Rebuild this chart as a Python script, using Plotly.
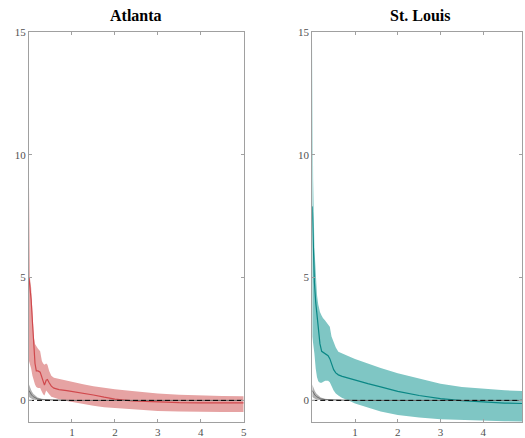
import plotly.graph_objects as go

# Horizon (years) and response estimates with confidence bands
atl_x = [0, 0.02, 0.05, 0.08, 0.11, 0.14, 0.17, 0.21, 0.26, 0.30, 0.33, 0.36, 0.40, 0.43,
         0.47, 0.52, 0.58, 0.70, 0.88, 1.0, 1.26, 1.5, 1.75, 2.0, 2.4, 3.0, 3.5, 4.0, 4.5, 5.0]
atl_mid = [5.0, 4.7, 4.1, 3.2, 2.3, 1.5, 1.2, 1.2, 1.15, 0.9, 0.75, 0.62, 0.82, 0.85,
           0.72, 0.58, 0.5, 0.44, 0.4, 0.37, 0.31, 0.22, 0.13, 0.05, -0.02, -0.07, -0.09, -0.1, -0.1, -0.1]
atl_hi = [8.8, 5.0, 4.6, 3.6, 2.6, 2.3, 2.2, 2.1, 2.0, 1.6, 1.5, 1.45, 1.5, 1.45,
          1.2, 1.0, 0.92, 0.87, 0.8, 0.75, 0.66, 0.58, 0.51, 0.45, 0.38, 0.28, 0.23, 0.2, 0.18, 0.17]
atl_lo = [1.6, 1.5, 1.3, 1.0, 0.8, 0.65, 0.55, 0.5, 0.5, 0.35, 0.25, 0.2, 0.4, 0.35,
          0.25, 0.15, 0.1, 0.05, -0.02, -0.07, -0.15, -0.22, -0.28, -0.32, -0.37, -0.43, -0.45, -0.47, -0.47, -0.47]

stl_x = [0, 0.02, 0.05, 0.08, 0.11, 0.14, 0.18, 0.22, 0.25, 0.30, 0.37, 0.41, 0.45, 0.50,
         0.55, 0.61, 0.70, 0.85, 1.0, 1.3, 1.6, 2.0, 2.5, 3.0, 3.5, 4.0, 4.5, 5.0]
stl_mid = [7.9, 6.3, 4.8, 4.0, 3.4, 2.8, 2.3, 2.0, 1.96, 1.92, 1.82, 1.7, 1.49, 1.25,
           1.12, 1.04, 0.98, 0.9, 0.84, 0.68, 0.55, 0.37, 0.2, 0.07, -0.01, -0.07, -0.11, -0.13]
stl_hi = [14.8, 9.0, 6.2, 5.0, 4.3, 3.9, 3.6, 3.45, 3.35, 3.25, 3.1, 3.0, 2.6, 2.35,
          2.15, 1.98, 1.9, 1.8, 1.69, 1.5, 1.32, 1.1, 0.88, 0.68, 0.55, 0.47, 0.41, 0.37]
stl_lo = [2.6, 2.5, 1.9, 1.3, 0.95, 0.78, 0.72, 0.72, 0.75, 0.8, 0.8, 0.74, 0.6, 0.4,
          0.28, 0.2, 0.1, 0.0, -0.13, -0.3, -0.45, -0.6, -0.7, -0.77, -0.8, -0.83, -0.85, -0.86]

# Placebo response (grey)
plc_x = [0, 0.03, 0.06, 0.1, 0.15, 0.2, 0.3, 0.4, 0.5, 0.75, 1.0, 5.0]
plc_mid = [0.4, 0.3, 0.22, 0.15, 0.1, 0.06, 0.03, 0.02, 0.01, 0.01, 0.0, 0.0]
plc_hi = [0.65, 0.5, 0.38, 0.27, 0.18, 0.12, 0.07, 0.04, 0.03, 0.02, 0.01, 0.01]
plc_lo = [0.15, 0.1, 0.07, 0.04, 0.02, 0.01, 0.0, 0.0, 0.0, 0.0, 0.0, 0.0]

titles = ["Atlanta", "St. Louis"]
xticks = [1, 2, 3, 4, 5]
yticks = [0, 5, 10, 15]

panels = [
    (atl_x, atl_mid, atl_hi, atl_lo, "rgb(230,163,163)", "rgb(208,72,76)", "x", "y"),
    (stl_x, stl_mid, stl_hi, stl_lo, "rgb(127,198,196)", "rgb(10,135,133)", "x2", "y2"),
]

fig = go.Figure()


def band(x, hi, lo, color, xa, ya):
    return go.Scatter(x=list(x) + list(x)[::-1], y=list(hi) + list(lo)[::-1],
                      fill="toself", fillcolor=color, line=dict(width=0),
                      mode="lines", hoverinfo="skip", showlegend=False,
                      xaxis=xa, yaxis=ya)


for x, mid, hi, lo, fcol, lcol, xa, ya in panels:
    fig.add_trace(band(x, hi, lo, fcol, xa, ya))
    fig.add_trace(go.Scatter(x=x, y=mid, mode="lines", line=dict(color=lcol, width=1.2),
                             showlegend=False, xaxis=xa, yaxis=ya))
    fig.add_trace(band(plc_x, plc_hi, plc_lo, "rgba(150,150,150,0.75)", xa, ya))
    fig.add_trace(go.Scatter(x=plc_x, y=plc_mid, mode="lines",
                             line=dict(color="rgb(110,110,110)", width=1),
                             showlegend=False, xaxis=xa, yaxis=ya))
    fig.add_trace(go.Scatter(x=[0, 5], y=[0, 0], mode="lines",
                             line=dict(color="black", width=1, dash="5px,3px"),
                             showlegend=False, xaxis=xa, yaxis=ya))

W, H = 525, 438
ml, mt, mb = 29, 32, 15
pw = W - ml
left_dom = [0, (245 - ml) / pw]
right_dom = [(314 - ml) / pw, 1.0]

axis_common = dict(showline=True, linecolor="rgb(160,160,160)", linewidth=1,
                   mirror="ticks", ticks="inside", ticklen=3, tickcolor="rgb(160,160,160)",
                   showgrid=False, zeroline=False,
                   tickfont=dict(family="Liberation Serif", size=11, color="rgb(80,80,80)"))

fig.update_layout(
    width=W, height=H,
    margin=dict(l=ml, r=0, t=mt, b=mb),
    paper_bgcolor="white", plot_bgcolor="white",
    xaxis=dict(domain=left_dom, range=[0, 5], tickvals=xticks, anchor="y", **axis_common),
    yaxis=dict(range=[-0.88, 15], tickvals=yticks, anchor="x", **axis_common),
    xaxis2=dict(domain=right_dom, range=[0, (W - 314) / 43.0], tickvals=xticks, anchor="y2",
                **axis_common),
    yaxis2=dict(range=[-0.88, 15], tickvals=yticks, anchor="x2", **axis_common),
)

for t, dom in zip(titles, [left_dom, [right_dom[0], right_dom[0] + (left_dom[1] - left_dom[0])]]):
    fig.add_annotation(text="<b>%s</b>" % t, xref="paper", yref="paper",
                       x=(dom[0] + dom[1]) / 2, y=1, xanchor="center", yanchor="bottom",
                       yshift=6, showarrow=False,
                       font=dict(family="Liberation Serif", size=16, color="black"))

fig.write_html("out.html")
